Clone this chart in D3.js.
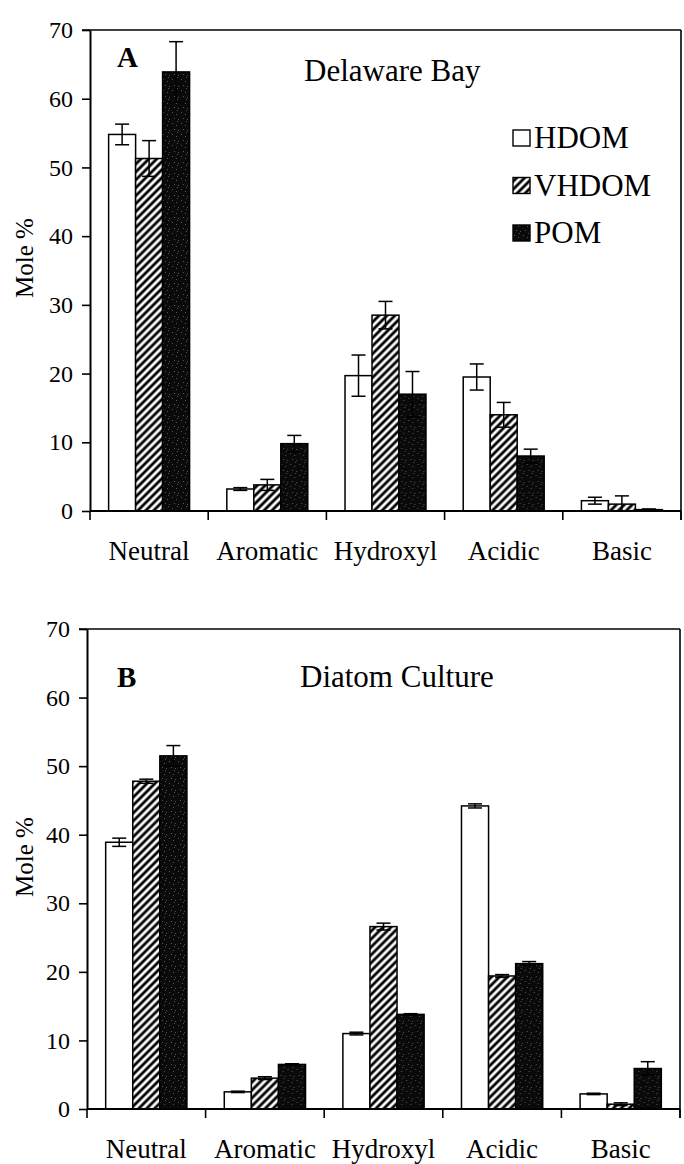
<!DOCTYPE html>
<html>
<head>
<meta charset="utf-8">
<script src="https://cdn.jsdelivr.net/npm/d3@7"></script>
<style>
body{margin:0;background:#fff;}
svg{display:block;}
svg text{font-family:"Liberation Serif","Times New Roman",serif;fill:#000;}
</style>
</head>
<body>
<div id="chart"></div>
<script>
// categories and series
var categories = ["Neutral", "Aromatic", "Hydroxyl", "Acidic", "Basic"];
var series = ["HDOM", "VHDOM", "POM"];
var yTicks = [0, 10, 20, 30, 40, 50, 60, 70];

// A - Delaware Bay
var bayHDOM = [54.8, 3.2, 19.7, 19.5, 1.5];
var bayHDOMErr = [1.5, 0.2, 3.0, 1.9, 0.5];
var bayVHDOM = [51.3, 3.8, 28.5, 14.0, 1.0];
var bayVHDOMErr = [2.6, 0.8, 2.0, 1.8, 1.2];
var bayPOM = [63.9, 9.8, 17.0, 8.0, 0.2];
var bayPOMErr = [4.4, 1.2, 3.3, 1.0, 0.1];

// B - Diatom Culture
var diatomHDOM = [38.9, 2.5, 11.0, 44.2, 2.2];
var diatomHDOMErr = [0.6, 0.1, 0.2, 0.3, 0.1];
var diatomVHDOM = [47.8, 4.5, 26.6, 19.4, 0.7];
var diatomVHDOMErr = [0.3, 0.2, 0.5, 0.2, 0.2];
var diatomPOM = [51.5, 6.5, 13.8, 21.2, 5.9];
var diatomPOMErr = [1.5, 0.1, 0.1, 0.3, 1.0];

var fills = {HDOM: "#fff", VHDOM: "url(#hatch)", POM: "url(#speckle)"};

function drawPanel(svg, p){
    var y = d3.scaleLinear().domain([0, 70]).range([p.bottom, p.top]);
    var x0 = d3.scaleBand().domain(categories).range([p.left, p.right]);
    var x1 = d3.scaleBand().domain(series).range([0, x0.bandwidth()]).paddingOuter(0.69);

    var g = svg.append("g");

    // frame: top and right
    g.append("line").attr("x1", p.left - 8).attr("x2", p.right)
        .attr("y1", p.top).attr("y2", p.top)
        .attr("stroke", "#000").attr("stroke-width", 1.6);
    g.append("line").attr("x1", p.right).attr("x2", p.right)
        .attr("y1", p.top).attr("y2", p.bottom + 9)
        .attr("stroke", "#000").attr("stroke-width", 1.6);

    // y axis
    var yAxis = g.append("g")
        .attr("transform", "translate(" + p.left + ",0)")
        .call(d3.axisLeft(y).tickValues(yTicks).tickSize(8).tickSizeOuter(0).tickPadding(9));
    yAxis.select(".domain").attr("stroke-width", 2);
    yAxis.selectAll(".tick line").attr("stroke-width", 1.6);
    yAxis.selectAll(".tick text").attr("font-size", 24);

    // bars
    var groups = categories.map(function(c, i){
        return series.map(function(s, j){
            return {cat: c, ser: s, v: p.values[j][i], e: p.errors[j][i]};
        });
    });
    var cat = g.selectAll(".cat").data(groups).enter().append("g")
        .attr("class", "cat")
        .attr("transform", function(d){ return "translate(" + x0(d[0].cat) + ",0)"; });
    cat.selectAll("rect").data(function(d){ return d; }).enter().append("rect")
        .attr("x", function(d){ return x1(d.ser); })
        .attr("width", x1.bandwidth())
        .attr("y", function(d){ return y(d.v); })
        .attr("height", function(d){ return y(0) - y(d.v); })
        .attr("fill", function(d){ return fills[d.ser]; })
        .attr("stroke", "#000").attr("stroke-width", 1.5);

    // error bars
    var eb = cat.selectAll(".err").data(function(d){ return d; }).enter().append("g").attr("class", "err");
    var cx = function(d){ return x1(d.ser) + x1.bandwidth() / 2; };
    var hi = function(d){ return y(d.v + d.e); };
    var lo = function(d){ return y(Math.max(0, d.v - d.e)); };
    eb.append("line")
        .attr("x1", cx).attr("x2", cx)
        .attr("y1", hi).attr("y2", lo)
        .attr("stroke", "#000").attr("stroke-width", 1.5);
    eb.append("line")
        .attr("x1", function(d){ return cx(d) - 7; }).attr("x2", function(d){ return cx(d) + 7; })
        .attr("y1", hi).attr("y2", hi)
        .attr("stroke", "#000").attr("stroke-width", 1.5);
    eb.append("line")
        .attr("x1", function(d){ return cx(d) - 7; }).attr("x2", function(d){ return cx(d) + 7; })
        .attr("y1", lo).attr("y2", lo)
        .attr("stroke", "#000").attr("stroke-width", 1.5);

    // x axis line + boundary ticks
    g.append("line").attr("x1", p.left).attr("x2", p.right)
        .attr("y1", y(0)).attr("y2", y(0))
        .attr("stroke", "#000").attr("stroke-width", 2);
    var bounds = categories.map(function(c){ return x0(c); }).concat([p.right]);
    g.selectAll(".xtick").data(bounds).enter().append("line")
        .attr("x1", function(d){ return d; }).attr("x2", function(d){ return d; })
        .attr("y1", y(0)).attr("y2", y(0) + 9)
        .attr("stroke", "#000").attr("stroke-width", 1.6);
    g.selectAll(".xlab").data(categories).enter().append("text")
        .attr("x", function(d){ return x0(d) + x0.bandwidth() / 2; })
        .attr("y", y(0) + 49)
        .attr("text-anchor", "middle")
        .attr("font-size", 27)
        .text(function(d){ return d; });

    // y title
    g.append("text")
        .attr("transform", "translate(33," + (p.top + 228) + ") rotate(-90)")
        .attr("text-anchor", "middle")
        .attr("font-size", 25)
        .text("Mole %");

    // panel letter and title
    g.append("text").attr("x", p.letterX).attr("y", p.letterY)
        .attr("font-size", 29).attr("font-weight", "bold").text(p.letter);
    g.append("text").attr("x", p.titleX).attr("y", p.titleY)
        .attr("font-size", 31).text(p.title);

    if(p.legend){
        var lg = g.selectAll(".leg").data(series).enter().append("g")
            .attr("transform", function(d, i){ return "translate(513," + (p.top + 108 + i * 47.5) + ")"; });
        lg.append("rect").attr("x", 0).attr("y", -8).attr("width", 17).attr("height", 16)
            .attr("fill", function(d){ return fills[d]; })
            .attr("stroke", "#000").attr("stroke-width", 1.4);
        lg.append("text").attr("x", 21).attr("y", 10)
            .attr("font-size", 31).text(function(d){ return d; });
    }
}

function myfun(){
    var svg = d3.select("#chart").append("svg")
        .attr("width", 684)
        .attr("height", 1164);

    var defs = svg.append("defs");
    var hatch = defs.append("pattern").attr("id", "hatch")
        .attr("patternUnits", "userSpaceOnUse")
        .attr("width", 5.6).attr("height", 5.6)
        .attr("patternTransform", "rotate(45)");
    hatch.append("rect").attr("width", 5.6).attr("height", 5.6).attr("fill", "#fff");
    hatch.append("line").attr("x1", 2.8).attr("x2", 2.8).attr("y1", 0).attr("y2", 5.6)
        .attr("stroke", "#000").attr("stroke-width", 2.8);

    var speckle = defs.append("pattern").attr("id", "speckle")
        .attr("patternUnits", "userSpaceOnUse")
        .attr("width", 9).attr("height", 11);
    speckle.append("rect").attr("width", 9).attr("height", 11).attr("fill", "#0a0a0a");
    [[1, 2], [5, 4], [3, 8], [7, 9], [6, 0]].forEach(function(q){
        speckle.append("rect").attr("x", q[0]).attr("y", q[1]).attr("width", 1).attr("height", 1).attr("fill", "#555");
    });

    drawPanel(svg, {
        top: 30, bottom: 511, left: 90, right: 681,
        letter: "A", letterX: 117, letterY: 67,
        title: "Delaware Bay", titleX: 304, titleY: 81,
        values: [bayHDOM, bayVHDOM, bayPOM],
        errors: [bayHDOMErr, bayVHDOMErr, bayPOMErr],
        legend: true
    });
    drawPanel(svg, {
        top: 629, bottom: 1109, left: 87, right: 680,
        letter: "B", letterX: 117, letterY: 687,
        title: "Diatom Culture", titleX: 300, titleY: 687,
        values: [diatomHDOM, diatomVHDOM, diatomPOM],
        errors: [diatomHDOMErr, diatomVHDOMErr, diatomPOMErr],
        legend: false
    });
}
window.onload = myfun;
</script>
</body>
</html>
